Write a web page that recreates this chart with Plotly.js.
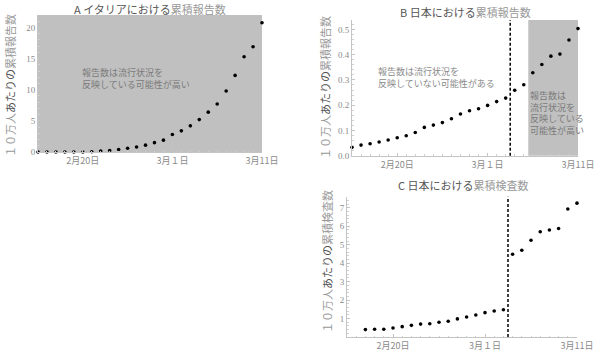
<!DOCTYPE html>
<html><head><meta charset="utf-8">
<script src="https://cdn.plot.ly/plotly-3.0.1.min.js"></script>
<style>html,body{margin:0;padding:0;background:#fff}#g{width:600px;height:358px}</style>
</head><body><div id="g"></div>
<script>
// Dates
const datesAB = ['2020-02-15','2020-02-16','2020-02-17','2020-02-18','2020-02-19','2020-02-20','2020-02-21','2020-02-22','2020-02-23','2020-02-24','2020-02-25','2020-02-26','2020-02-27','2020-02-28','2020-02-29','2020-03-01','2020-03-02','2020-03-03','2020-03-04','2020-03-05','2020-03-06','2020-03-07','2020-03-08','2020-03-09','2020-03-10','2020-03-11'];
const datesC = ['2020-02-17','2020-02-18','2020-02-19','2020-02-20','2020-02-21','2020-02-22','2020-02-23','2020-02-24','2020-02-25','2020-02-26','2020-02-27','2020-02-28','2020-02-29','2020-03-01','2020-03-02','2020-03-03','2020-03-04','2020-03-05','2020-03-06','2020-03-07','2020-03-08','2020-03-09','2020-03-10','2020-03-11'];
// Series (per 100k)
const italyReported = [0,0,0,0,0,0,0.03,0.15,0.25,0.4,0.6,0.8,1.1,1.5,1.9,2.8,3.4,4.2,5.2,6.4,7.7,9.8,12.3,15.3,16.9,20.75];
const japanReported = [0.033,0.042,0.047,0.054,0.062,0.071,0.079,0.092,0.112,0.121,0.131,0.146,0.165,0.178,0.186,0.199,0.214,0.228,0.259,0.281,0.328,0.361,0.394,0.402,0.458,0.503];
const japanTested = [0.40,0.42,0.42,0.49,0.56,0.63,0.70,0.72,0.80,0.85,0.98,1.08,1.19,1.32,1.41,1.48,4.48,4.70,5.24,5.70,5.80,5.88,6.93,7.25];
// Ticks / labels
const xTickVals = ['2020-02-20','2020-03-01','2020-03-11'];
const xTickText = ['2月20日','3月１日','3月11日'];
const yTicksA = [0,5,10,15,20];
const yTicksB = [0,0.1,0.2,0.3,0.4,0.5];
const yTicksBText = ['0.0','0.1','0.2','0.3','0.4','0.5'];
const yTicksC = [1,2,3,4,5,6,7];
const cutoffDate = '2020-03-03 12:00';
const shadeStartB = '2020-03-05 12:00';
const xRange = ['2020-02-15','2020-03-11'];

const CJK = 'Noto Sans CJK JP';
const mk = {color:'#000', size:3.6};
const traces = [
  {x:datesAB, y:italyReported, mode:'markers', marker:mk, xaxis:'x', yaxis:'y', cliponaxis:false},
  {x:datesAB, y:japanReported, mode:'markers', marker:mk, xaxis:'x2', yaxis:'y2', cliponaxis:false},
  {x:datesC, y:japanTested, mode:'markers', marker:mk, xaxis:'x3', yaxis:'y3', cliponaxis:false}
];
function xa(dom, anchor){
  return {type:'date', range:xRange, domain:dom, anchor:anchor, tickvals:xTickVals, ticktext:xTickText,
    showline:true, linecolor:'#c4c4c4', linewidth:1, ticks:'inside', ticklen:3, tickcolor:'#c4c4c4',
    showgrid:false, zeroline:false, tickfont:{family:CJK, size:9, color:'#8a8a8a'},
    minor:{ticks:'inside', ticklen:1.5, tickcolor:'#d0d0d0', dtick:86400000, showgrid:false}};
}
function ya(dom, anchor, range, tv, tt, mdt){
  return {range:range, domain:dom, anchor:anchor, tickvals:tv, ticktext:tt||tv.map(String),
    showline:true, linecolor:'#c4c4c4', linewidth:1, ticks:'inside', ticklen:3, tickcolor:'#c4c4c4',
    showgrid:false, zeroline:false, tickfont:{family:'Liberation Serif', size:9, color:'#8a8a8a'},
    minor:{ticks:'inside', ticklen:1.5, tickcolor:'#d0d0d0', dtick:mdt, showgrid:false}};
}
const H = 358, W = 600;
const layout = {
  width:W, height:H, margin:{l:0,r:0,t:0,b:0}, showlegend:false,
  paper_bgcolor:'#fff', plot_bgcolor:'rgba(0,0,0,0)',
  xaxis: xa([38/W, 262/W], 'y'),
  yaxis: ya([1-152/H, 1-15/H], 'x', [0,22], yTicksA, null, 1),
  xaxis2: xa([352/W, 578/W], 'y2'),
  yaxis2: ya([1-155.7/H, 1-20/H], 'x2', [0,0.537], yTicksB, yTicksBText, 0.02),
  xaxis3: xa([347/W, 577/W], 'y3'),
  yaxis3: ya([1-337/H, 1-196.7/H], 'x3', [0,7.6], yTicksC, null, 0.2),
  shapes:[
    {type:'rect', xref:'x domain', yref:'y domain', x0:0, x1:1, y0:0, y1:1, fillcolor:'#c0c0c0', line:{width:0}, layer:'below'},
    {type:'rect', xref:'x2', yref:'y2 domain', x0:shadeStartB, x1:xRange[1], y0:0, y1:1, fillcolor:'#c0c0c0', line:{width:0}, layer:'below'},
    {type:'line', xref:'x2', yref:'y2 domain', x0:cutoffDate, x1:cutoffDate, y0:0, y1:1, line:{color:'#000', width:1.5, dash:'3px,2px'}},
    {type:'line', xref:'x3', yref:'y3 domain', x0:cutoffDate, x1:cutoffDate, y0:0, y1:1, line:{color:'#000', width:1.5, dash:'3px,2px'}}
  ],
  annotations:[
    {xref:'paper', yref:'paper', x:150/W, y:1-9/H, text:'<span style="color:#555">A イタリアにおける</span><span style="color:#999">累積報告数</span>', showarrow:false, font:{family:CJK, size:11}, xanchor:'center', yanchor:'middle'},
    {xref:'paper', yref:'paper', x:465/W, y:1-12/H, text:'<span style="color:#555">B 日本における</span><span style="color:#999">累積報告数</span>', showarrow:false, font:{family:CJK, size:11}, xanchor:'center', yanchor:'middle'},
    {xref:'paper', yref:'paper', x:463/W, y:1-185/H, text:'<span style="color:#555">C 日本における</span><span style="color:#999">累積検査数</span>', showarrow:false, font:{family:CJK, size:11}, xanchor:'center', yanchor:'middle'},
    {xref:'paper', yref:'paper', x:10/W, y:1-86/H, textangle:-90, text:'<span style="color:#999">１０万人</span><span style="color:#555">あたりの</span><span style="color:#999">累積報告数</span>', showarrow:false, font:{family:CJK, size:11}, xanchor:'center', yanchor:'middle'},
    {xref:'paper', yref:'paper', x:325/W, y:1-88/H, textangle:-90, text:'<span style="color:#999">１０万人</span><span style="color:#555">あたりの</span><span style="color:#999">累積報告数</span>', showarrow:false, font:{family:CJK, size:11}, xanchor:'center', yanchor:'middle'},
    {xref:'paper', yref:'paper', x:327/W, y:1-262/H, textangle:-90, text:'<span style="color:#999">１０万人</span><span style="color:#555">あたりの</span><span style="color:#999">累積検査数</span>', showarrow:false, font:{family:CJK, size:11}, xanchor:'center', yanchor:'middle'},
    {xref:'paper', yref:'paper', x:80/W, y:1-79/H, text:'報告数は流行状況を<br>反映している可能性が高い', showarrow:false, align:'left', font:{family:CJK, size:9, color:'#7a7a7a'}, xanchor:'left', yanchor:'middle'},
    {xref:'paper', yref:'paper', x:376/W, y:1-78/H, text:'報告数は流行状況を<br>反映していない可能性がある', showarrow:false, align:'left', font:{family:CJK, size:9, color:'#8a8a8a'}, xanchor:'left', yanchor:'middle'},
    {xref:'paper', yref:'paper', x:528/W, y:1-113/H, text:'報告数は<br>流行状況を<br>反映している<br>可能性が高い', showarrow:false, align:'left', font:{family:CJK, size:9, color:'#7a7a7a'}, xanchor:'left', yanchor:'middle'}
  ]
};
Plotly.newPlot('g', traces, layout, {staticPlot:true, displayModeBar:false});
</script></body></html>
